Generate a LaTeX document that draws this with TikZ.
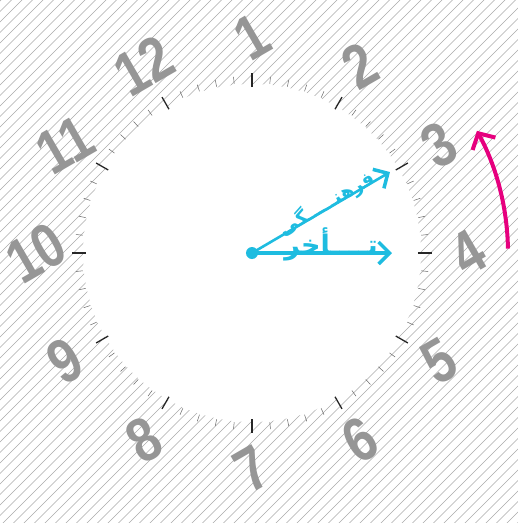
\documentclass[tikz,border=0pt]{standalone}
\usepackage{fontspec}
\setmainfont{Liberation Sans}
\newfontfamily\arabicfont[Script=Arabic]{DejaVu Sans}
\TeXXeTstate=1
\usetikzlibrary{arrows.meta,calc}
\definecolor{numgray}{RGB}{150,150,150}
\definecolor{hatchgray}{RGB}{170,170,170}
\definecolor{lagcyan}{RGB}{30,188,224}
\definecolor{turnpink}{RGB}{230,0,126}

\begin{document}
\begin{tikzpicture}[x=1pt,y=1pt,
hatch/.style={hatchgray, line width=0.65pt},
hourtick/.style={black!85, line width=1.3pt},
mintick/.style={black!60, line width=0.5pt},
numeral/.style={numgray, font=\fontsize{62}{62}\selectfont\bfseries, inner sep=0pt},
lagarrow/.style={lagcyan, line width=3.5pt, -{Straight Barb[length=11pt,width=22pt,line width=3.5pt]}},
turnarrow/.style={turnpink, line width=4pt, -{Straight Barb[length=12pt,width=26pt,line width=4pt]}}
]
\useasboundingbox (-252,-270) rectangle (266,253);

% hatched ground
\begin{scope}
\clip (-252,-270) rectangle (266,253);
\foreach \c in {-546,-535.5,...,546}
    \draw[hatch] (-300,-300+\c) -- (300,300+\c);
\end{scope}
\fill[white] (0,0) circle (169);

% dial
\foreach \i in {0,...,59}{
    \pgfmathtruncatemacro\r{mod(\i,5)}
    \ifnum\r=0
        \draw[hourtick] ({90-6*\i}:166) -- ({90-6*\i}:180);
    \else
        \draw[mintick] ({90-6*\i}:170) -- ({90-6*\i}:177);
    \fi
}

% numbers, turned back one hour
\foreach \n in {1,...,12}
    \node[numeral, rotate=30, xscale=0.82] (n\n) at ({90-(\n-1)*30}:216) {\n};

\draw[turnarrow] (1:256) arc[start angle=1, end angle=28.5, radius=256];

% hands
\node[circle, fill=lagcyan, inner sep=0pt, minimum size=12pt] (o) at (0,0) {};
\coordinate (h) at (140,0);
\coordinate (d) at (30.4:160);
\draw[lagarrow] (o.center) -- (h);
\draw[lagarrow, line width=2.6pt] (o.center) -- (d);
\node[lagcyan, anchor=base east, inner sep=0pt, font=\arabicfont\bfseries\fontsize{27}{27}\selectfont]
    (lag) at (126,-1.5) {\beginR تــــأخر\endR};
\node[lagcyan, anchor=base, inner sep=0pt, rotate=30.4, font=\arabicfont\bfseries\fontsize{19}{19}\selectfont]
    (cult) at ($(o)!0.56!(d)+(0.8,-1.4)$) {\beginR فرهنـــــگی\endR};
\end{tikzpicture}
\end{document}
